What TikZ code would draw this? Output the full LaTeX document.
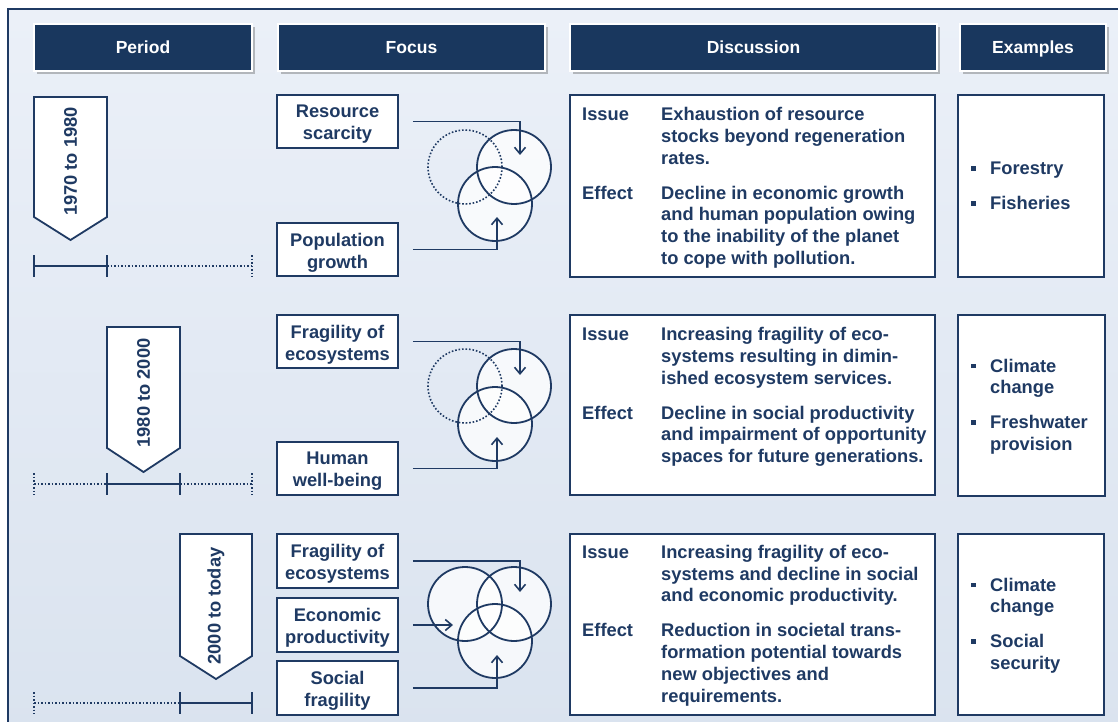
\documentclass[tikz,border=0pt]{standalone}
\usepackage{fontspec}
\setmainfont{Liberation Sans}
\usetikzlibrary{arrows.meta,shadows,calc}
\definecolor{navy}{HTML}{1F3A63}
\definecolor{hdr}{HTML}{19375E}
\definecolor{bgtop}{HTML}{EBF0F8}
\definecolor{bgbot}{HTML}{DAE3EF}
\newcommand{\bul}{\raisebox{4pt}{\rule{4.5pt}{4.5pt}}}
\tikzset{
  every node/.style={text=navy, font=\fontsize{18.3}{21.8}\selectfont\bfseries, inner sep=0pt},
  hdrbox/.style={fill=hdr, draw=white, line width=1.5pt, text=white, minimum height=47pt,
    font=\fontsize{17.5}{21.8}\selectfont\bfseries, text height=12.6pt, text depth=0pt,
    drop shadow={shadow xshift=2.5pt, shadow yshift=-3pt, opacity=0.35, fill=black!70}},
  focusbox/.style={draw=navy, line width=1.8pt, fill=white, minimum width=121pt},
  ftext/.style={label={[yshift=-3pt, align=center]center:#1}},
  bigbox/.style={draw=navy, line width=1.8pt, fill=white},
  arr/.style={draw=navy, line width=1.6pt, -{Straight Barb[length=6.5pt,width=11pt]}},
  ring/.style={circle, draw=navy, line width=1.8pt, minimum size=74pt},
  dotring/.style={circle, draw=navy, line width=1.6pt, dash pattern=on 1.6pt off 1.9pt, minimum size=74pt},
  solidline/.style={draw=navy, line width=2pt},
  dotline/.style={draw=navy, line width=1.6pt, dash pattern=on 1.6pt off 1.9pt},
  pent/.style={draw=navy, line width=1.8pt, fill=white, line join=miter},
  txt/.style={anchor=base west, align=left},
}
\begin{document}
\begin{tikzpicture}[x=1pt,y=-1pt]
\useasboundingbox (0,0) rectangle (1118,722);
\clip (0,0) rectangle (1118,722);
% background and frame
\fill[white] (0,0) rectangle (1118,722);
\shade[top color=bgtop, bottom color=bgbot] (8,9) rectangle (1130,735);
\draw[navy, line width=2pt] (8,735) -- (8,9) -- (1130,9);

% headers
\node[hdrbox, minimum width=218pt] (hP) at (143,47.5) {Period};
\node[hdrbox, minimum width=267pt] (hF) at (411.5,47.5) {Focus};
\node[hdrbox, minimum width=367pt] (hD) at (753.5,47.5) {Discussion};
\node[hdrbox, minimum width=146pt] (hE) at (1033,47.5) {Examples};

% ---------- period pentagons ----------
\draw[pent] (34,97) -- (107,97) -- (107,217) -- (70.5,240) -- (34,217) -- cycle;
\node[rotate=90] (p1) at (70.5,161.5) {1970 to 1980};
\draw[pent] (107,327) -- (180,327) -- (180,448) -- (143.5,472) -- (107,448) -- cycle;
\node[rotate=90] (p2) at (143.5,393) {1980 to 2000};
\draw[pent] (180,534) -- (252,534) -- (252,656) -- (216,679) -- (180,656) -- cycle;
\node[rotate=90] (p3) at (216,606) {2000 to today};

% ---------- timelines ----------
\coordinate (t1a) at (34,266); \coordinate (t1b) at (107,266); \coordinate (t1c) at (252,266);
\draw[solidline] (t1a) -- (t1b);
\draw[dotline] (t1b) -- (t1c);
\draw[solidline] ($(t1a)+(0,-11)$) -- ($(t1a)+(0,11)$);
\draw[solidline] ($(t1b)+(0,-11)$) -- ($(t1b)+(0,11)$);
\draw[dotline] ($(t1c)+(0,-11)$) -- ($(t1c)+(0,11)$);

\coordinate (t2a) at (34,484); \coordinate (t2b) at (107,484); \coordinate (t2c) at (180,484); \coordinate (t2d) at (252,484);
\draw[dotline] (t2a) -- (t2b);
\draw[solidline] (t2b) -- (t2c);
\draw[dotline] (t2c) -- (t2d);
\draw[dotline] ($(t2a)+(0,-11)$) -- ($(t2a)+(0,11)$);
\draw[solidline] ($(t2b)+(0,-11)$) -- ($(t2b)+(0,11)$);
\draw[solidline] ($(t2c)+(0,-11)$) -- ($(t2c)+(0,11)$);
\draw[dotline] ($(t2d)+(0,-11)$) -- ($(t2d)+(0,11)$);

\coordinate (t3a) at (34,703); \coordinate (t3b) at (180,703); \coordinate (t3c) at (252,703);
\draw[dotline] (t3a) -- (t3b);
\draw[solidline] (t3b) -- (t3c);
\draw[dotline] ($(t3a)+(0,-11)$) -- ($(t3a)+(0,11)$);
\draw[solidline] ($(t3b)+(0,-11)$) -- ($(t3b)+(0,11)$);
\draw[solidline] ($(t3c)+(0,-11)$) -- ($(t3c)+(0,11)$);

% ---------- focus boxes ----------
\node[focusbox, minimum height=53pt, ftext={Resource\\scarcity}] (f1a) at (337.5,121.5) {};
\node[focusbox, minimum height=53pt, ftext={Population\\growth}] (f1b) at (337.5,249.5) {};
\node[focusbox, minimum height=53pt, ftext={Fragility of\\ecosystems}] (f2a) at (337.5,341.5) {};
\node[focusbox, minimum height=53pt, ftext={Human\\well-being}] (f2b) at (337.5,468.5) {};
\node[focusbox, minimum height=54pt, ftext={Fragility of\\ecosystems}] (f3a) at (337.5,561) {};
\node[focusbox, minimum height=54pt, ftext={Economic\\productivity}] (f3b) at (337.5,625) {};
\node[focusbox, minimum height=54pt, ftext={Social\\fragility}] (f3c) at (337.5,688) {};

% ---------- circles ----------
\coordinate (c1r) at (514,167); \coordinate (c1b) at (495,204); \coordinate (c1d) at (465,167);
\coordinate (c2r) at (514,386); \coordinate (c2b) at (495,424); \coordinate (c2d) at (465,386);
\coordinate (c3r) at (514,604); \coordinate (c3b) at (495,641); \coordinate (c3l) at (465,604);
\foreach \c in {c1r,c1b,c2r,c2b,c3r,c3b,c3l}
  \fill[white, opacity=0.75] (\c) circle[radius=37pt];
\node[ring] (C1r) at (c1r) {};
\node[ring] (C1b) at (c1b) {};
\node[dotring] (C1d) at (c1d) {};
\node[ring] (C2r) at (c2r) {};
\node[ring] (C2b) at (c2b) {};
\node[dotring] (C2d) at (c2d) {};
\node[ring] (C3l) at (c3l) {};
\node[ring] (C3r) at (c3r) {};
\node[ring] (C3b) at (c3b) {};

% ---------- arrows ----------
\coordinate (a1a) at (520,155); \coordinate (a1b) at (497,217);
\coordinate (a2a) at (520,375); \coordinate (a2b) at (497,437);
\coordinate (a3a) at (520,592); \coordinate (a3b) at (453,625); \coordinate (a3c) at (497,655);
\draw[arr] ([xshift=14pt]f1a.east) -| (a1a);
\draw[arr] ([xshift=14pt]f1b.east) -| (a1b);
\draw[arr] ([xshift=14pt]f2a.east) -| (a2a);
\draw[arr] ([xshift=14pt]f2b.east) -| (a2b);
\draw[arr] ([xshift=14pt]f3a.east) -| (a3a);
\draw[arr] ([xshift=14pt]f3b.east) -- (a3b);
\draw[arr] ([xshift=14pt]f3c.east) -| (a3c);

% ---------- discussion boxes ----------
\node[bigbox, minimum width=365pt, minimum height=182pt] (d1) at (752.5,186) {};
\node[bigbox, minimum width=365pt, minimum height=180pt] (d2) at (752.5,405) {};
\node[bigbox, minimum width=365pt, minimum height=181pt] (d3) at (752.5,624.5) {};

\node[txt] (d1t) at (582,120.5) {\begin{tabular}[t]{@{}p{79pt}@{}l@{}}
Issue & Exhaustion of resource\\
 & stocks beyond regeneration\\
 & rates.\\[13.2pt]
Effect & Decline in economic growth\\
 & and human population owing\\
 & to the inability of the planet\\
 & to cope with pollution.
\end{tabular}};
\node[txt] (d2t) at (582,340.5) {\begin{tabular}[t]{@{}p{79pt}@{}l@{}}
Issue & Increasing fragility of eco-\\
 & systems resulting in dimin-\\
 & ished ecosystem services.\\[13.2pt]
Effect & Decline in social productivity\\
 & and impairment of opportunity\\
 & spaces for future generations.
\end{tabular}};
\node[txt] (d3t) at (582,558.3) {\begin{tabular}[t]{@{}p{79pt}@{}l@{}}
Issue & Increasing fragility of eco-\\
 & systems and decline in social\\
 & and economic productivity.\\[13.2pt]
Effect & Reduction in societal trans-\\
 & formation potential towards\\
 & new objectives and\\
 & requirements.
\end{tabular}};

% ---------- examples boxes ----------
\node[bigbox, minimum width=146pt, minimum height=182pt] (e1) at (1031,186) {};
\node[bigbox, minimum width=147pt, minimum height=181pt] (e2) at (1031.5,405.5) {};
\node[bigbox, minimum width=146pt, minimum height=181pt] (e3) at (1031,624.5) {};

\node[txt] (e1t) at (971,175) {\begin{tabular}[t]{@{}l@{\hspace{14.5pt}}l@{}}
\bul & Forestry\\[13.2pt]
\bul & Fisheries
\end{tabular}};
\node[txt] (e2t) at (971,372) {\begin{tabular}[t]{@{}l@{\hspace{14.5pt}}l@{}}
\bul & Climate\\
 & change\\[13.2pt]
\bul & Freshwater\\
 & provision
\end{tabular}};
\node[txt] (e3t) at (971,591) {\begin{tabular}[t]{@{}l@{\hspace{14.5pt}}l@{}}
\bul & Climate\\
 & change\\[13.2pt]
\bul & Social\\
 & security
\end{tabular}};
\end{tikzpicture}
\end{document}
